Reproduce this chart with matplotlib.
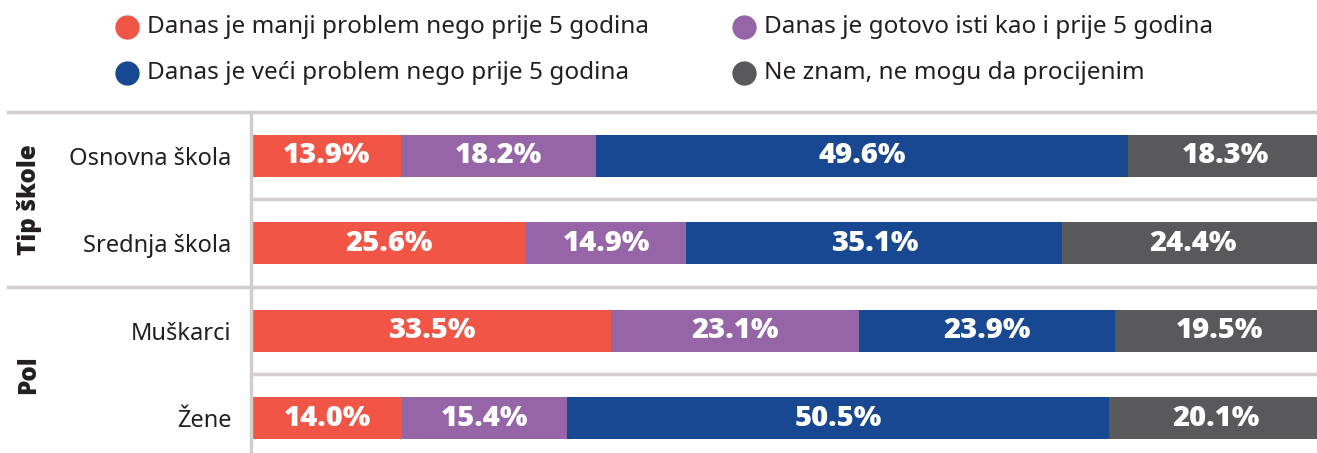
import matplotlib.pyplot as plt
from matplotlib.lines import Line2D

plt.rcParams['font.family'] = ['Noto Sans', 'DejaVu Sans']
bold_family = ['Open Sans', 'Lato', 'DejaVu Sans']

# data
categories = ['Osnovna škola', 'Srednja škola', 'Muškarci', 'Žene']
groups = ['Tip škole', 'Pol']
series = ['Danas je manji problem nego prije 5 godina',
          'Danas je gotovo isti kao i prije 5 godina',
          'Danas je veći problem nego prije 5 godina',
          'Ne znam, ne mogu da procijenim']
manji = [13.9, 25.6, 33.5, 14.0]
isti = [18.2, 14.9, 23.1, 15.4]
veci = [49.6, 35.1, 23.9, 50.5]
ne_znam = [18.3, 24.4, 19.5, 20.1]
colors = ['#f05545', '#9565a8', '#174891', '#59595b']

W, H = 1317, 453
fig = plt.figure(figsize=(W / 100, H / 100), dpi=100)
ax = fig.add_axes([251 / W, 0, 1 - 251 / W, (H - 112) / H])

values = [manji, isti, veci, ne_znam]
y = list(range(len(categories)))
left = [0.0] * len(categories)
for vals, col in zip(values, colors):
    ax.barh(y, vals, left=left, height=0.48, color=col, zorder=2)
    for yi, v, l in zip(y, vals, left):
        ax.text(l + v / 2, yi, f'{v:.1f}%', ha='center', va='center',
                color='white', fontsize=21, fontweight=800,
                family=bold_family, zorder=3)
    left = [a + b for a, b in zip(left, vals)]

# the bars run slightly past the right edge in the original
ax.set_xlim(-0.1, 99.35)
ax.set_ylim(3.4, -0.5)
ax.set_yticks(y)
ax.set_yticklabels(categories, fontsize=17, color='#231f20')
ax.tick_params(axis='y', length=0, pad=14)
ax.set_xticks([])
for s in ['top', 'right', 'bottom']:
    ax.spines[s].set_visible(False)
ax.spines['left'].set_color('#d2cecd')
ax.spines['left'].set_linewidth(2.5)

# separators
grey = '#d2cecd'
for yy in [0.5, 2.5]:
    ax.axhline(yy, color=grey, lw=2.5, zorder=1)
for yy in [-0.5, 1.5]:
    ax.axhline(yy, xmin=-243 / 1066, xmax=1, color=grey, lw=2.5,
               clip_on=False, zorder=1)

# group labels
for gi, g in enumerate(groups):
    ax.text(-222 / 1066, 2 * gi + 0.5, g, rotation=90, ha='center',
            va='center', fontsize=17.5, fontweight=800, family=bold_family,
            color='#231f20', transform=ax.get_yaxis_transform())

# legend
for i, (name, col) in enumerate(zip(series, colors)):
    cx = [127, 744][i % 2]
    cy = [27, 73][i // 2]
    fig.add_artist(Line2D([cx / W], [1 - cy / H], marker='o', markersize=16.5,
                          color=col, transform=fig.transFigure))
    fig.text((cx + 20) / W, 1 - cy / H, name, ha='left', va='center',
             fontsize=17.5, color='#231f20')

fig.savefig('out.png', dpi=100)
